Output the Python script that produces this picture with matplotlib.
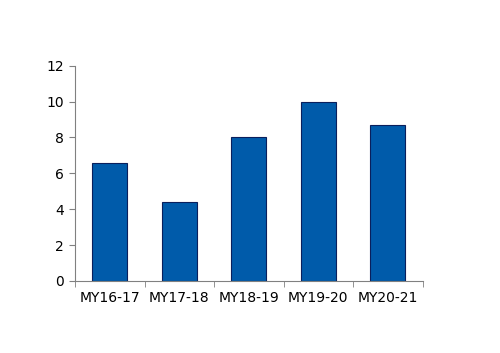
import matplotlib.pyplot as plt
from matplotlib.ticker import FixedLocator, MultipleLocator

seasons = ["MY16-17", "MY17-18", "MY18-19", "MY19-20", "MY20-21"]
values = [6.6, 4.4, 8.0, 10.0, 8.7]

fig = plt.figure(figsize=(5, 3.53), dpi=100)
ax = fig.add_axes([0.15, 0.204, 0.695, 0.61])

x = list(range(len(seasons)))
ax.bar(x, values, width=0.5, color="#005BAA", edgecolor="#0A1F5C", linewidth=0.8)

ax.set_xlim(-0.5, len(seasons) - 0.5)
ax.set_ylim(0, 12)
ax.yaxis.set_major_locator(MultipleLocator(2))

# category labels centred, tick marks between categories
ax.set_xticks(x)
ax.set_xticklabels(seasons)
ax.tick_params(axis="x", which="major", length=0, pad=7)
ax.xaxis.set_minor_locator(FixedLocator([i - 0.5 for i in range(len(seasons) + 1)]))
ax.tick_params(axis="x", which="minor", length=4, color="#808080", direction="out")
ax.tick_params(axis="y", length=4, color="#808080", pad=4)
ax.tick_params(labelsize=10, labelcolor="black")

for side in ["top", "right"]:
    ax.spines[side].set_visible(False)
for side in ["left", "bottom"]:
    ax.spines[side].set_color("#808080")
    ax.spines[side].set_linewidth(0.8)

fig.savefig("out.png", dpi=100)
